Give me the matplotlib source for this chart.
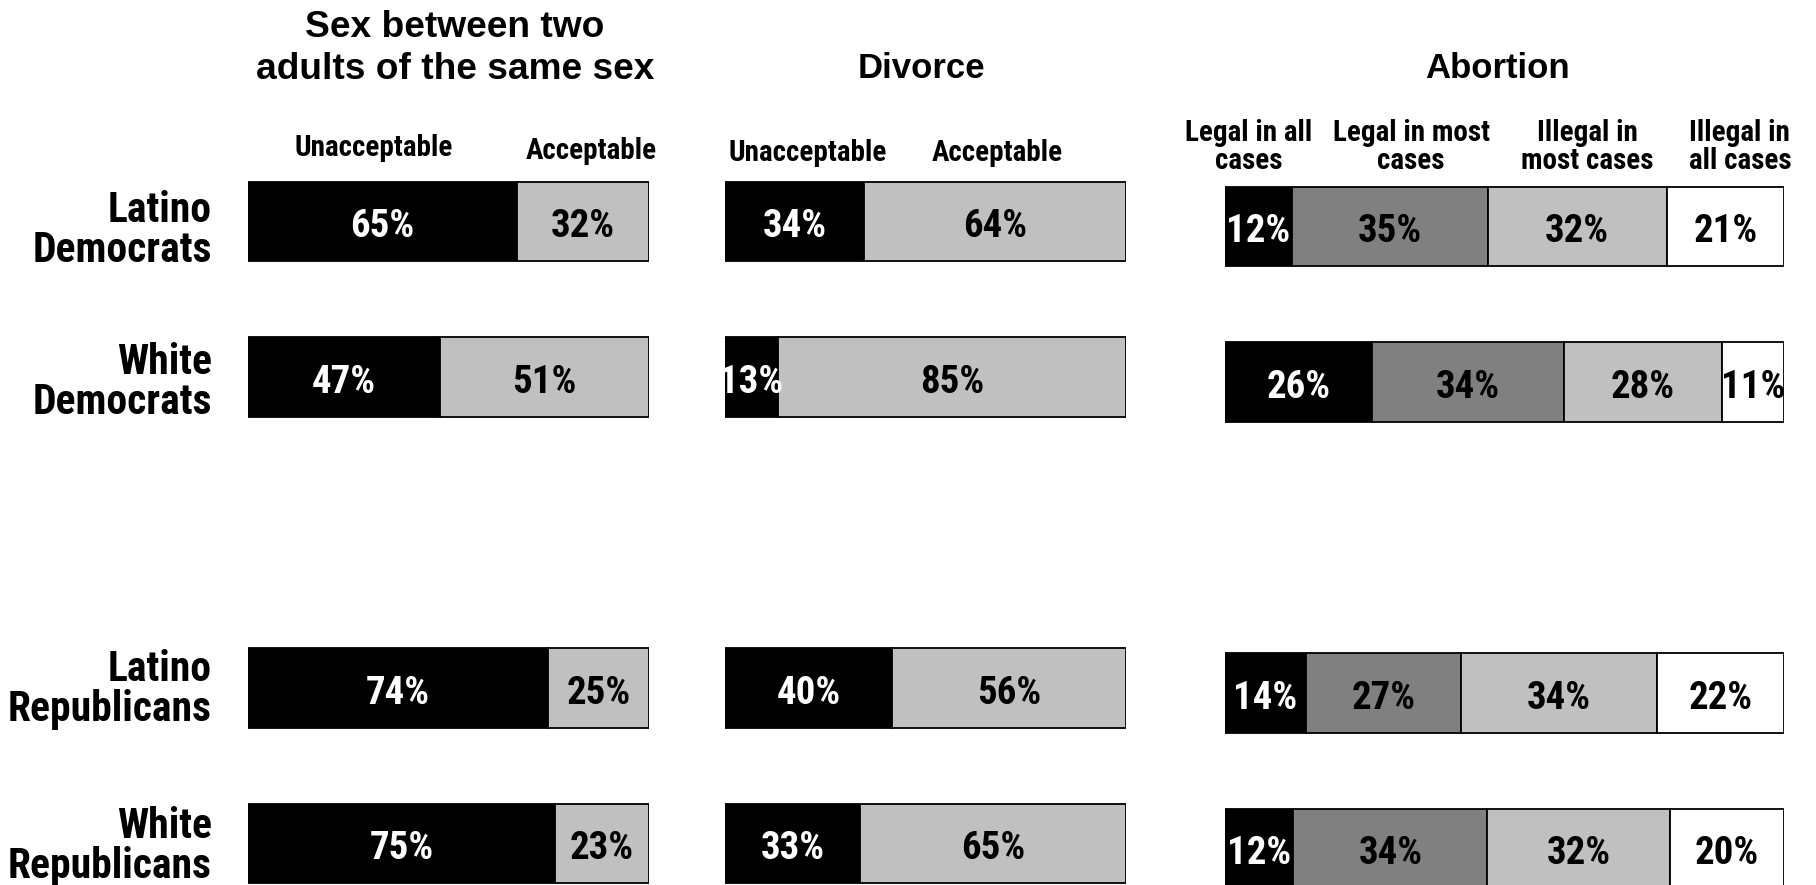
import numpy as np
import matplotlib
matplotlib.use('Agg')
import matplotlib.pyplot as plt
from matplotlib import font_manager

# Data
groups = ['Latino\nDemocrats', 'White\nDemocrats', 'Latino\nRepublicans', 'White\nRepublicans']

samesex_unacceptable = [65, 47, 74, 75]
samesex_acceptable = [32, 51, 25, 23]

divorce_unacceptable = [34, 13, 40, 33]
divorce_acceptable = [64, 85, 56, 65]

abortion_legal_all = [12, 26, 14, 12]
abortion_legal_most = [35, 34, 27, 34]
abortion_illegal_most = [32, 28, 34, 32]
abortion_illegal_all = [21, 11, 22, 20]

two_way_headers = ['Unacceptable', 'Acceptable']
abortion_headers = ['Legal in all\ncases', 'Legal in most\ncases', 'Illegal in\nmost cases', 'Illegal in\nall cases']
titles = ['Sex between two\nadults of the same sex', 'Divorce', 'Abortion']

# fonts: a condensed bold face if one is installed
names = {f.name for f in font_manager.fontManager.ttflist}
cond = None
for cand in ['Liberation Sans Narrow', 'Arial Narrow', 'Roboto Condensed',
             'Open Sans Condensed', 'DejaVu Sans Condensed']:
    if cand in names:
        cond = cand
        break
if cond:
    narrow = [cond, 'Liberation Sans']
    sz_pct, sz_row, sz_head, ls_row, ls_head = 28, 30, 21, 0.97, 1.0
else:
    narrow = ['Liberation Sans', 'DejaVu Sans']
    sz_pct, sz_row, sz_head, ls_row, ls_head = 23, 25, 17, 1.2, 1.36
regular = ['Liberation Sans', 'DejaVu Sans']

W, H = 1816, 885
fig = plt.figure(figsize=(W / 100, H / 100), dpi=100)

rows = [0, 1, 3, 4]   # gap between Democrats and Republicans
label_dy = [0.056, 0.037, 0.007, 0.02]
unit = 155.5          # pixels per row unit
y_top, y_bot = -0.6, 4.6


def make_axes(x0, x1, first_row_px):
    top = first_row_px + y_top * unit
    height = (y_bot - y_top) * unit
    ax = fig.add_axes([x0 / W, 1 - (top + height) / H, (x1 - x0) / W, height / H])
    ax.set_xlim(0, 1)
    ax.set_ylim(y_bot, y_top)
    ax.axis('off')
    return ax


def stacked(ax, series, colors, textcolors):
    vals = np.array(series, dtype=float)
    shares = vals / vals.sum(axis=0)
    left = np.zeros(vals.shape[1])
    for k in range(vals.shape[0]):
        ax.barh(rows, shares[k], left=left, height=0.51, color=colors[k],
                edgecolor='black', linewidth=1.3)
        for i, r in enumerate(rows):
            ax.text(left[i] + shares[k][i] / 2, r + 0.035, f'{int(vals[k][i])}%',
                    ha='center', va='center', color=textcolors[k],
                    fontsize=sz_pct, fontweight='bold', family=narrow)
        left = left + shares[k]


ax1 = make_axes(248, 649, 221.5)
ax2 = make_axes(725, 1126, 221.5)
ax3 = make_axes(1225, 1784, 226.5)

stacked(ax1, [samesex_unacceptable, samesex_acceptable], ['black', '#c0c0c0'], ['white', 'black'])
stacked(ax2, [divorce_unacceptable, divorce_acceptable], ['black', '#c0c0c0'], ['white', 'black'])
stacked(ax3, [abortion_legal_all, abortion_legal_most, abortion_illegal_most, abortion_illegal_all],
        ['black', '#808080', '#c0c0c0', 'white'], ['white', 'black', 'black', 'black'])

# row labels
for g, r, dy in zip(groups, rows, label_dy):
    ax1.text(-0.09, r + dy, g, ha='right', va='center', fontsize=sz_row,
             fontweight='bold', family=narrow, linespacing=ls_row)

# titles
fig.text(455 / W, 1 - 48.5 / H, titles[0], ha='center', va='center', fontsize=26.7,
         fontweight='bold', family=regular, linespacing=1.28)
fig.text(921 / W, 1 - 68.5 / H, titles[1], ha='center', va='center', fontsize=25,
         fontweight='bold', family=regular)
fig.text(1497 / W, 1 - 68.5 / H, titles[2], ha='center', va='center', fontsize=25,
         fontweight='bold', family=regular)

# column headers
for ax, xs, ys in [(ax1, [0.314, 0.855], [-0.47, -0.452]), (ax2, [0.207, 0.678], [-0.44, -0.44])]:
    for h, x, y in zip(two_way_headers, xs, ys):
        ax.text(x, y, h, ha='center', va='center', fontsize=sz_head,
                fontweight='bold', family=narrow)

for h, x in zip(abortion_headers, [0.043, 0.333, 0.648, 0.921]):
    ax3.text(x, -0.51, h, ha='center', va='center', fontsize=sz_head,
             fontweight='bold', family=narrow, linespacing=ls_head)

fig.savefig('out.png', dpi=100)
